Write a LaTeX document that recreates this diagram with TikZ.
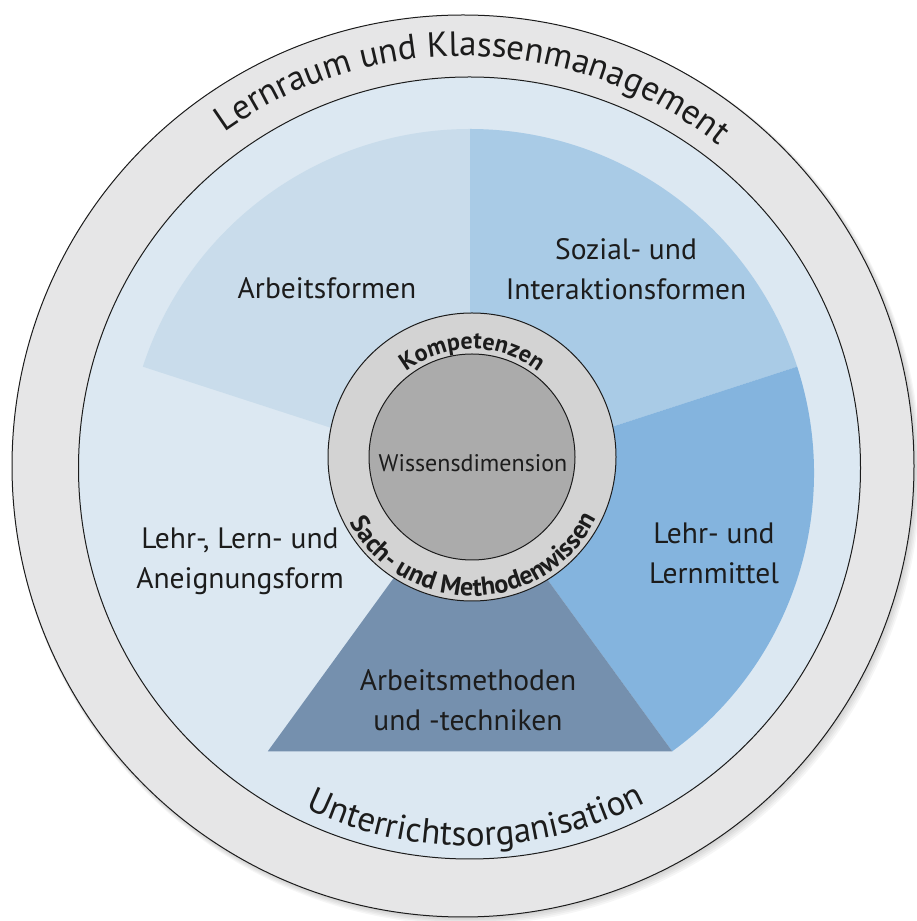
\documentclass[tikz,border=0pt]{standalone}
\usepackage{fontspec}
\setmainfont{PT Sans}
\usetikzlibrary{decorations.text}

\definecolor{ringgray}{HTML}{E6E6E7}
\definecolor{bgblue}{HTML}{DCE8F2}
\definecolor{formblue}{HTML}{C9DCEB}
\definecolor{sozialblue}{HTML}{A9CBE6}
\definecolor{mittelblue}{HTML}{84B4DE}
\definecolor{methodblue}{HTML}{7590AE}
\definecolor{corelight}{HTML}{D3D3D3}
\definecolor{coredark}{HTML}{ABABAB}
\definecolor{ink}{HTML}{1C1C1C}

\tikzstyle{rim} = [draw=ink, line width=1pt]
\tikzstyle{fieldtext} = [align=center, text=ink, font=\fontsize{29.5}{40}\selectfont]
\tikzstyle{coretext} = [text=ink, font=\fontsize{24}{24}\selectfont]
\tikzstyle{bigarc} = [decorate, decoration={text along path, text align=center, text color=ink}]

\begin{document}
\begin{tikzpicture}[x=1pt, y=1pt]
	\useasboundingbox (0,0) rectangle (917,921);
	\fill[white] (0,0) rectangle (917,921);
	\coordinate (O) at (463,455);
	\coordinate (B) at (469.5,453);
	\coordinate (S) at (470,448);
	\coordinate (C) at (472,464);
	
	% soft shadow under the outer ring
	\foreach \s in {1,...,5}
		\fill[black, opacity=0.035] ([shift={(\s*0.8,-\s*1)}]O) circle[radius=451+\s*0.6];
	
	\filldraw[rim, fill=ringgray] (O) circle[radius=451];
	\filldraw[rim, fill=bgblue] (B) circle[radius=391];
	
	\begin{scope}[shift={(S)}]
		\fill[formblue] (0,0) -- (90:344) arc[start angle=90, end angle=162, radius=344] -- cycle;
		\fill[sozialblue] (0,0) -- (18:344) arc[start angle=18, end angle=90, radius=344] -- cycle;
		\fill[mittelblue] (0,0) -- (-54:344) arc[start angle=-54, end angle=18, radius=344] -- cycle;
		\fill[methodblue] (0,0) -- (234:344) -- (306:344) -- cycle;
	\end{scope}
	
	\filldraw[rim, fill=corelight] (C) circle[radius=144];
	\filldraw[rim, fill=coredark] (C) circle[radius=103];
	
	\node (arbeitsformen) [fieldtext] at (327,633) {Arbeitsformen};
	\node (sozial) [fieldtext] at (626,652) {Sozial- und\\Interaktionsformen};
	\node (lernmittel) [fieldtext] at (714,368) {Lehr- und\\Lernmittel};
	\node (aneignung) [fieldtext] at (240,360) {Lehr-, Lern- und\\Aneignungsform};
	\node (methoden) [fieldtext] at (468,221) {Arbeitsmethoden\\und -techniken};
	\node (wissen) [coretext] at (473,458) {Wissensdimension};
	
	\path[bigarc, decoration={text={|\fontsize{35}{35}\selectfont|Lernraum und Klassenmanagement}}]
		([shift={(167:410)}]O) arc[start angle=167, end angle=10, radius=410];
	\path[bigarc, decoration={text={|\fontsize{35}{35}\selectfont|Unterrichtsorganisation}}]
		([shift={(200:378)}]B) arc[start angle=200, end angle=342, radius=378];
	\path[bigarc, decoration={text={|\bfseries\fontsize{24}{24}\selectfont|Kompetenzen}}]
		([shift={(160:108)}]C) arc[start angle=160, end angle=20, radius=108];
	\path[bigarc, decoration={text={|\bfseries\fontsize{26}{26}\selectfont|Sach- und Methodenwissen}}]
		([shift={(190:139)}]C) arc[start angle=190, end angle=352, radius=139];
\end{tikzpicture}
\end{document}
